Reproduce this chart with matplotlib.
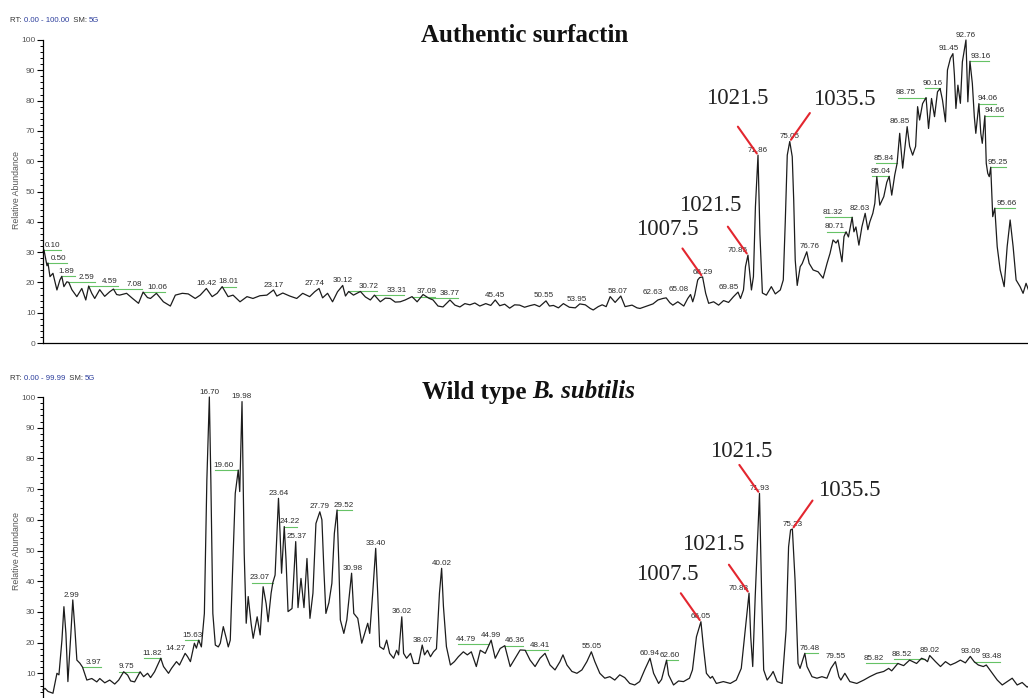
import numpy as np
import matplotlib.pyplot as plt

# Authentic surfactin: retention time (min) and relative abundance (%)
top_rt = [
    0.0, 0.10, 0.4, 0.50, 0.7, 1.0, 1.4, 1.7, 1.89, 2.1, 2.4, 2.59, 2.9, 3.4, 3.9,
    4.3, 4.59, 4.9, 5.2, 5.7, 6.2, 6.7, 7.08, 7.4, 7.7, 8.4, 9.0, 9.6, 10.06, 10.5,
    10.8, 11.4, 12.1, 12.8, 13.3, 14.0, 14.6, 15.3, 15.8, 16.42, 17.0, 17.5, 18.01,
    18.6, 19.1, 19.8, 20.5, 21.1, 21.8, 22.5, 23.17, 23.5, 24.1, 24.8, 25.5, 26.1,
    26.8, 27.3, 27.74, 28.1, 28.6, 29.1, 29.6, 30.12, 30.4, 30.72, 31.2, 31.9, 32.4,
    32.9, 33.31, 33.9, 34.4, 34.9, 35.4, 35.9, 36.4, 37.09, 37.6, 38.2, 38.77, 39.2,
    39.7, 40.2, 40.9, 41.4, 41.9, 42.4, 42.9, 43.4, 43.9, 44.5, 45.0, 45.45, 45.9,
    46.4, 46.9, 47.4, 47.9, 48.4, 48.9, 49.4, 49.9, 50.55, 50.9, 51.3, 51.8, 52.3,
    52.9, 53.5, 53.95, 54.5, 55.0, 55.3, 55.8, 56.2, 56.6, 57.0, 57.5, 58.07, 58.5,
    59.2, 59.7, 60.0, 60.7, 61.3, 61.8, 62.3, 62.63, 63.0, 63.3, 63.8, 64.4, 64.8,
    65.08, 65.3, 65.5, 65.8, 66.0, 66.29, 66.6, 66.9, 67.4, 67.9, 68.4, 68.9, 69.4,
    69.85, 70.1, 70.4, 70.6, 70.85, 71.0, 71.2, 71.4, 71.6, 71.86, 72.05, 72.3, 72.7,
    73.2, 73.6, 74.1, 74.4, 74.6, 74.8, 75.05, 75.3, 75.45, 75.6, 75.8, 76.1, 76.3,
    76.76, 77.0, 77.4, 77.9, 78.4, 78.8, 79.1, 79.4, 79.7, 79.9, 80.3, 80.5, 80.71,
    80.95, 81.32, 81.5, 81.7, 82.0, 82.3, 82.63, 82.9, 83.1, 83.4, 83.6, 83.8, 84.1,
    84.5, 84.8, 85.04, 85.3, 85.6, 85.84, 86.1, 86.4, 86.85, 87.1, 87.4, 87.7, 87.9,
    88.1, 88.4, 88.75, 89.0, 89.3, 89.6, 89.9, 90.16, 90.4, 90.7, 90.9, 91.2, 91.45,
    91.6, 91.75, 91.95, 92.2, 92.4, 92.76, 92.95, 93.16, 93.4, 93.6, 93.75, 94.06,
    94.25, 94.4, 94.66, 94.8, 94.95, 95.1, 95.25, 95.45, 95.66, 95.9, 96.2, 96.6,
    96.9, 97.2, 97.5, 97.8, 98.2, 98.5, 98.8, 99.1, 99.5, 100.0,
]
top_abund = [
    30.0, 30.7, 25.5, 26.4, 21.9, 23.0, 17.5, 20.8, 22.0, 18.6, 20.2, 20.0, 17.6, 15.3, 18.0,
    14.2, 18.8, 16.4, 14.7, 17.6, 15.4, 16.9, 17.8, 16.0, 15.8, 16.4, 14.7, 13.1, 16.8, 15.0,
    14.7, 16.4, 13.6, 12.2, 15.8, 16.4, 16.2, 14.7, 15.8, 18.0, 15.3, 16.4, 18.6,
    15.3, 15.8, 13.6, 15.3, 14.7, 15.6, 15.8, 17.5, 15.5, 16.5, 15.5, 14.7, 16.4,
    15.3, 16.9, 18.0, 14.9, 16.4, 13.6, 16.9, 19.0, 15.5, 17.0, 15.8, 17.0, 15.2,
    14.2, 15.8, 13.6, 14.8, 14.7, 13.5, 13.6, 14.2, 15.3, 13.6, 16.0, 14.8, 14.2,
    12.2, 11.9, 14.2, 12.5, 11.9, 13.0, 12.6, 13.2, 12.2, 13.0, 12.4, 14.2, 12.3,
    12.8, 11.5, 12.6, 12.5, 11.8, 12.3, 12.7, 12.0, 13.9, 12.2, 12.4, 11.6, 13.0,
    11.8, 11.6, 12.9, 12.6, 11.4, 10.9, 12.0, 12.6, 12.0, 15.3, 13.4, 15.5, 12.0,
    12.5, 11.6, 11.4, 12.2, 12.9, 14.2, 14.7, 14.9, 13.3, 12.5, 13.6, 12.2, 14.7,
    16.0, 13.6, 15.8, 20.8, 21.6, 21.8, 16.4, 13.1, 13.6, 12.5, 14.0, 13.4, 15.3,
    16.8, 14.7, 17.5, 25.2, 29.0, 24.1, 17.5, 21.9, 45.0, 62.0, 36.0, 16.5, 15.8,
    18.6, 16.2, 17.5, 20.8, 40.0, 62.0, 66.5, 61.5, 47.0, 27.4, 19.0, 25.2, 26.2,
    30.1, 26.3, 24.1, 23.5, 21.4, 26.3, 29.6, 34.0, 33.0, 34.0, 26.8, 35.1, 36.7,
    35.0, 41.5, 36.7, 38.3, 32.3, 38.3, 42.8, 37.4, 40.0, 42.8, 46.1, 54.9, 45.5,
    48.3, 53.0, 55.0, 48.8, 55.4, 59.3, 69.2, 57.7, 71.4, 64.9, 62.0, 64.9, 78.0,
    73.6, 79.0, 81.0, 70.8, 80.7, 74.7, 82.9, 84.0, 80.2, 73.0, 90.1, 94.0, 95.5,
    88.4, 77.4, 85.1, 79.1, 92.8, 100.0, 79.6, 93.0, 85.7, 74.7, 69.2, 79.0,
    69.2, 65.9, 75.0, 59.3, 56.0, 54.9, 58.0, 41.7, 44.5, 31.8, 24.1, 18.6,
    31.8, 40.6, 31.8, 20.8, 18.6, 16.4, 19.7, 17.0, 18.0, 17.0,
]
top_labels = [
    0.10, 0.50, 1.89, 2.59, 4.59, 7.08, 10.06, 16.42, 18.01, 23.17, 27.74, 30.12,
    30.72, 33.31, 37.09, 38.77, 45.45, 50.55, 53.95, 58.07, 62.63, 65.08, 66.29,
    69.85, 70.85, 71.86, 75.05, 76.76, 80.71, 81.32, 82.63, 85.04, 85.84, 86.85,
    88.75, 90.16, 91.45, 92.76, 93.16, 94.06, 94.66, 95.25, 95.66,
]
# label text shift along the time axis (min); leader lines drawn for these peaks
top_shift = {
    0.10: 0.9, 0.50: 1.1, 1.89: 0.5, 2.59: 1.8, 4.59: 2.1, 7.08: 2.1, 10.06: 1.4,
    18.01: 0.6, 27.74: -0.4, 30.72: 2.0, 33.31: 2.2, 37.09: 1.5, 38.77: 2.1,
    50.55: -0.2, 53.95: -0.3, 58.07: -0.3, 62.63: -1.3, 65.08: -1.2, 69.85: -0.9,
    70.85: -1.0, 76.76: 0.3, 80.71: -1.1, 81.32: -1.9, 82.63: -0.5, 85.04: -0.9,
    85.84: -1.3, 86.85: -0.7, 88.75: -2.0, 90.16: -0.7, 91.45: -0.45,
    93.16: 1.1, 94.06: 0.9, 94.66: 1.0, 95.25: 0.75, 95.66: 1.2,
}
top_leaders = [0.10, 0.50, 1.89, 2.59, 4.59, 7.08, 10.06, 18.01, 30.72, 33.31,
               37.09, 38.77, 80.71, 81.32, 85.04, 85.84, 88.75, 90.16,
               93.16, 94.06, 94.66, 95.25, 95.66]

# Wild type B. subtilis
bot_rt = [
    0.0, 0.2, 0.5, 1.0, 1.4, 1.6, 1.9, 2.1, 2.3, 2.5, 2.8, 2.99, 3.2, 3.4, 3.7,
    3.97, 4.4, 4.9, 5.4, 5.7, 6.2, 6.7, 7.2, 7.6, 8.1, 8.5, 8.8, 9.2, 9.75, 10.1,
    10.5, 10.8, 11.2, 11.82, 12.1, 12.6, 12.9, 13.4, 13.7, 14.27, 14.5, 14.8, 15.2,
    15.4, 15.63, 15.9, 16.2, 16.45, 16.70, 16.85, 17.05, 17.3, 17.6, 17.8, 18.1,
    18.4, 18.6, 18.8, 19.0, 19.3, 19.60, 19.75, 19.98, 20.2, 20.4, 20.6, 20.9, 21.1,
    21.5, 21.8, 22.1, 22.4, 22.6, 22.9, 23.07, 23.3, 23.64, 23.8, 23.95, 24.22, 24.4,
    24.6, 25.0, 25.37, 25.6, 25.9, 26.2, 26.5, 26.8, 27.1, 27.4, 27.79, 28.0, 28.2,
    28.4, 28.7, 29.0, 29.25, 29.52, 29.7, 29.85, 30.2, 30.5, 30.98, 31.2, 31.6,
    32.0, 32.3, 32.6, 32.8, 33.1, 33.40, 33.6, 33.8, 34.2, 34.5, 34.8, 35.2, 35.5,
    35.7, 36.02, 36.2, 36.5, 36.9, 37.2, 37.7, 38.07, 38.3, 38.6, 38.9, 39.2, 39.5,
    39.8, 40.02, 40.2, 40.5, 40.9, 41.3, 41.7, 42.2, 42.6, 43.0, 43.5, 43.9, 44.4,
    44.79, 44.99, 45.4, 45.9, 46.36, 46.6, 46.9, 47.4, 47.9, 48.41, 48.9, 49.4,
    49.9, 50.4, 50.9, 51.4, 51.9, 52.2, 52.6, 53.1, 53.6, 54.1, 54.6, 55.05, 55.4,
    55.9, 56.4, 56.9, 57.4, 57.9, 58.4, 58.9, 59.4, 59.9, 60.4, 60.94, 61.3, 61.8,
    62.1, 62.60, 62.8, 63.3, 63.8, 64.3, 64.9, 65.2, 65.6, 66.05, 66.3, 66.6, 67.0,
    67.2, 67.6, 68.3, 69.0, 69.6, 70.1, 70.5, 70.88, 71.05, 71.25, 71.5, 71.93,
    72.15, 72.35, 72.7, 73.1, 73.3, 73.7, 74.2, 74.6, 74.85, 75.05, 75.23, 75.5,
    75.8, 76.0, 76.48, 76.7, 77.2, 77.7, 78.2, 78.7, 79.1, 79.55, 79.9, 80.1, 80.5,
    81.0, 81.7, 82.4, 83.0, 83.7, 84.4, 84.9, 85.2, 85.82, 86.4, 87.0, 87.7, 88.2,
    88.52, 88.8, 89.02, 89.6, 90.1, 90.6, 91.1, 91.6, 92.1, 92.6, 93.09, 93.48,
    93.9, 94.4, 94.7, 95.3, 95.8, 96.3, 96.8, 97.3, 97.8, 98.3, 98.8, 99.3, 99.99,
]
bot_abund = [
    4.6, 5.1, 4.1, 3.5, 10.0, 9.5, 20.8, 31.7, 23.0, 7.3, 23.0, 33.9, 24.6, 14.3, 13.3,
    12.0, 7.8, 8.3, 7.2, 8.3, 6.9, 7.8, 6.5, 7.8, 10.5, 9.4, 7.5, 7.2, 10.5, 8.9,
    10.0, 8.6, 10.5, 14.9, 12.2, 10.0, 11.6, 13.8, 12.7, 16.5, 15.5, 13.8, 19.8,
    18.2, 20.8, 18.6, 29.5, 73.0, 100.0, 73.0, 29.5, 19.2, 18.6, 19.8, 25.2,
    21.4, 18.6, 20.8, 40.4, 68.6, 76.2, 69.2, 98.5, 49.0, 26.3, 35.0, 26.0, 21.4,
    28.4, 22.5, 38.2, 32.7, 26.8, 36.1, 39.5, 42.0, 67.0, 55.6, 42.6, 57.8, 46.9,
    30.1, 31.1, 52.9, 31.4, 40.9, 31.4, 47.4, 27.9, 36.1, 58.8, 62.6, 60.0, 43.6,
    29.5, 33.0, 39.3, 55.6, 63.2, 45.6, 27.4, 23.0, 27.4, 42.6, 29.5, 27.9,
    19.8, 23.0, 26.3, 23.0, 36.1, 50.7, 36.1, 18.7, 17.8, 20.8, 16.5, 14.9, 17.5,
    16.0, 28.4, 16.5, 14.9, 16.5, 13.2, 13.2, 19.2, 16.0, 17.5, 15.4, 17.0, 18.0,
    36.1, 44.2, 31.8, 18.7, 12.7, 13.8, 15.4, 17.0, 16.0, 17.0, 12.2, 17.5, 16.5,
    19.4, 20.8, 14.9, 18.1, 19.0, 16.0, 12.2, 14.9, 17.6, 17.5, 14.3, 12.2,
    14.9, 16.5, 12.7, 11.1, 13.8, 16.0, 12.7, 10.6, 10.0, 11.1, 13.8, 17.0, 13.8,
    10.0, 8.4, 8.9, 7.8, 9.5, 8.6, 6.7, 6.2, 7.3, 11.1, 14.9, 10.0, 6.7,
    8.0, 14.3, 9.5, 6.2, 7.5, 7.3, 8.4, 11.1, 21.9, 26.8, 18.6, 10.0, 8.4,
    9.0, 6.7, 7.3, 6.7, 7.8, 11.6, 24.1, 36.1, 21.9, 12.2, 35.0, 68.6,
    35.0, 11.1, 7.8, 9.5, 10.6, 7.3, 6.7, 24.1, 51.2, 56.7, 57.0, 40.4,
    13.2, 11.6, 16.5, 12.2, 8.9, 8.4, 8.9, 8.4, 11.6, 13.8, 8.9, 7.8, 10.0,
    7.3, 6.7, 7.8, 8.9, 10.0, 10.6, 11.6, 10.8, 13.2, 12.5, 14.3, 13.2, 14.9,
    14.5, 13.8, 15.8, 13.8, 12.2, 13.8, 12.7, 13.4, 14.3, 13.4, 15.5, 13.8,
    12.7, 12.2, 12.7, 10.0, 7.8, 6.2, 7.3, 8.4, 6.2, 7.0, 5.5, 6.5, 5.0,
]
bot_labels = [
    2.99, 3.97, 9.75, 11.82, 14.27, 15.63, 16.70, 19.60, 19.98, 23.07, 23.64, 24.22,
    25.37, 27.79, 29.52, 30.98, 33.40, 36.02, 38.07, 40.02, 44.79, 44.99, 46.36,
    48.41, 55.05, 60.94, 62.60, 66.05, 70.88, 71.93, 75.23, 76.48, 79.55, 85.82,
    88.52, 89.02, 93.09, 93.48,
]
bot_shift = {
    2.99: -0.1, 3.97: 1.1, 9.75: -1.35, 11.82: -0.9, 14.27: -1.0, 15.63: -0.6,
    19.60: -1.5, 23.07: -1.3, 24.22: 0.5, 25.37: 0.1, 29.52: 0.7, 30.98: 0.15,
    44.79: -2.3, 46.36: 1.0, 48.41: 1.5, 62.60: 0.35, 70.88: -1.0, 76.48: 0.5,
    85.82: -2.4, 88.52: -2.3, 93.48: 1.8,
}
bot_leaders = [3.97, 9.75, 11.82, 15.63, 19.60, 23.07, 24.22, 29.52, 44.79, 46.36,
               48.41, 62.60, 76.48, 85.82, 88.52, 93.48]

# m/z annotations: (text, peak RT)
top_masses = [("1007.5", 66.29), ("1021.5", 70.85), ("1021.5", 71.86), ("1035.5", 75.05)]
bot_masses = [("1007.5", 66.05), ("1021.5", 70.88), ("1021.5", 71.93), ("1035.5", 75.23)]
# text offsets from the peak apex, in points
top_mass_offsets = [(-25.6, 34.2), (-27.4, 36.0), (-15.1, 41.0), (39.6, 30.6)]
bot_mass_offsets = [(-24.5, 34.1), (-25.9, 35.3), (-13.5, 30.5), (41.0, 27.4)]

W, H = 1028, 698
SANS = ['Liberation Sans', 'DejaVu Sans']
SERIF = ['Liberation Serif', 'DejaVu Serif']
plt.rcParams['font.family'] = SANS


def draw_panel(ax, rt, ab, xmax, labels, shifts, leaders, masses, mass_offsets):
    ax.plot(rt, ab, color='#1c1c1c', lw=0.9, clip_on=False, zorder=2)
    ax.set_xlim(0, xmax)
    ax.set_ylim(0, 100)

    # retention-time labels, some pushed sideways with a green leader
    for r in labels:
        v = np.interp(r, rt, ab)
        dx = shifts.get(r, 0.0)
        ax.annotate(f"{r:.2f}", xy=(r + dx, v), xytext=(0, 1.0),
                    textcoords='offset points', ha='center', va='bottom',
                    fontsize=5.8, color='#2a2a2a', zorder=3)
        if r in leaders:
            end = r + dx + np.sign(dx) * 0.8
            ax.plot([r, end], [v, v], color='#66c266', lw=0.8, zorder=1)

    # m/z callouts with red pointer lines
    for (txt, r), (ox, oy) in zip(masses, mass_offsets):
        v = np.interp(r, rt, ab)
        sx = 14.5 if ox > 0 else -14.5
        ax.annotate('', xy=(r, v), xytext=(sx, 20.5), textcoords='offset points',
                    arrowprops=dict(arrowstyle='-', color='#e3262f', lw=1.5,
                                    shrinkA=0, shrinkB=1.5), zorder=4)
        ax.annotate(txt, xy=(r, v), xytext=(ox, oy), textcoords='offset points',
                    ha='center', va='center', fontsize=16.5, family=SERIF,
                    color='#222222', zorder=4)

    for side in ('top', 'right'):
        ax.spines[side].set_visible(False)
    ax.spines['left'].set_linewidth(0.9)
    ax.spines['bottom'].set_linewidth(0.9)
    ax.spines['left'].set_bounds(0, 100)
    ax.set_xticks([])
    ax.set_yticks(np.arange(0, 101, 10))
    ax.set_yticks(np.arange(0, 101, 2), minor=True)
    ax.tick_params(axis='y', which='major', length=4.5, width=0.8, pad=1,
                   labelsize=6, labelcolor='#555555')
    ax.tick_params(axis='y', which='minor', length=2.5, width=0.7)
    ax.patch.set_alpha(0)


fig = plt.figure(figsize=(W / 100, H / 100), dpi=100)

ax_top = fig.add_axes([43 / W, 1 - 343 / H, 995 / W, 303 / H])
draw_panel(ax_top, top_rt, top_abund, 100.0, top_labels, top_shift, top_leaders,
           top_masses, top_mass_offsets)

ax_bot = fig.add_axes([43 / W, 1 - 704 / H, 996 / W, 307 / H])
draw_panel(ax_bot, bot_rt, bot_abund, 99.99, bot_labels, bot_shift, bot_leaders,
           bot_masses, bot_mass_offsets)
# the zero of the lower panel sits below the figure edge
ax_bot.yaxis.get_major_ticks()[0].label1.set_visible(False)

# "RT: <range>  SM: 5G" headers, values in blue
for y_px, span in ((20, "0.00 - 100.00"), (378, "0.00 - 99.99")):
    prev = fig.text(10 / W, 1 - y_px / H, "RT: ", fontsize=5.6, color='#333333',
                    va='center')
    for txt, col in ((span, '#2c3e9c'), ("  SM: ", '#333333'), ("5G", '#2c3e9c')):
        prev = ax_top.annotate(txt, xy=(1, 0.5), xycoords=prev, va='center',
                               ha='left', fontsize=5.6, color=col,
                               annotation_clip=False)

for yc in (190, 551):
    fig.text(17 / W, 1 - yc / H, 'Relative Abundance', rotation=90, ha='center',
             va='center', fontsize=6.3, color='#555555')

fig.text(525 / W, 1 - 35 / H, 'Authentic surfactin', ha='center', va='center',
         fontsize=18, fontweight='bold', family=SERIF, color='#111111')
fig.text(527 / W, 1 - 392 / H, 'Wild type', ha='right', va='center',
         fontsize=18, fontweight='bold', family=SERIF, color='#111111')
fig.text(532 / W, 1 - 392 / H, 'B. subtilis', ha='left', va='center',
         fontsize=18, fontweight='bold', fontstyle='italic', family=SERIF,
         color='#111111')

plt.savefig('out.png', dpi=100)
